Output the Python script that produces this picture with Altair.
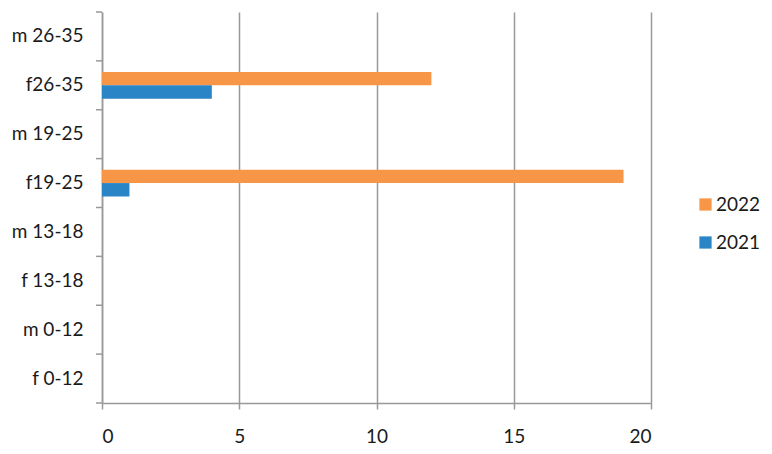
import altair as alt
import pandas as pd

categories = ["m 26-35", "f26-35", "m 19-25", "f19-25", "m 13-18", "f 13-18", "m 0-12", "f 0-12"]
values_2021 = [0, 4, 0, 1, 0, 0, 0, 0]
values_2022 = [0, 12, 0, 19, 0, 0, 0, 0]
series = ["2022", "2021"]
colors = ["#F79646", "#2A85C6"]
x_ticks = [0, 5, 10, 15, 20]

rows = []
for c, v21, v22 in zip(categories, values_2021, values_2022):
    rows.append({"cat": c, "year": "2022", "value": v22})
    rows.append({"cat": c, "year": "2021", "value": v21})
df = pd.DataFrame(rows)
cat_df = pd.DataFrame({"cat": categories})

FONT = "Lato"
GRAY = "#999999"
TXT = "#1a1a1a"
FS = 19

yscale = alt.Scale(domain=categories, paddingInner=0, paddingOuter=0)

bars = alt.Chart(df).mark_bar().encode(
    x=alt.X("value:Q", scale=alt.Scale(domain=[0, 20]),
            axis=alt.Axis(values=x_ticks, title=None, grid=True, gridColor=GRAY, gridWidth=1.5,
                          domainColor=GRAY, domainWidth=1.5, tickColor=GRAY, tickWidth=1.5,
                          tickSize=6, labelPadding=18, labelFontSize=FS, labelFont=FONT,
                          labelColor=TXT)),
    y=alt.Y("cat:N", sort=categories, scale=yscale,
            axis=alt.Axis(title=None, ticks=False, domainColor=GRAY, domainWidth=1.5,
                          labelPadding=19, labelFontSize=FS, labelFont=FONT,
                          labelColor=TXT)),
    yOffset=alt.YOffset("year:N", sort=series,
                        scale=alt.Scale(paddingInner=0, paddingOuter=0.82)),
    color=alt.Color("year:N", sort=series,
                    scale=alt.Scale(domain=series, range=colors),
                    legend=alt.Legend(title=None, orient="none", legendX=594, legendY=183,
                                      symbolType="square", symbolSize=150, symbolStrokeWidth=0,
                                      labelFontSize=FS, labelFont=FONT, labelColor=TXT,
                                      rowPadding=18, labelOffset=1, padding=0)),
)

ticks = alt.Chart(cat_df).mark_rule(color=GRAY, strokeWidth=1.5).encode(
    y=alt.Y("cat:N", sort=categories, scale=yscale, bandPosition=1),
    x=alt.value(-6), x2=alt.value(0),
)

top_tick = alt.Chart(pd.DataFrame({"a": [0]})).mark_rule(color=GRAY, strokeWidth=1.5).encode(
    x=alt.value(-6), x2=alt.value(0), y=alt.value(0)
)

chart = alt.layer(bars, ticks, top_tick).properties(
    width=549, height=391,
    background="white",
    autosize=alt.AutoSizeParams(type="none"),
    padding={"left": 94, "top": 4, "right": 113, "bottom": 43},
).configure_view(stroke=None)

chart.save("out.html", embed_options={"renderer": "svg", "actions": False})
